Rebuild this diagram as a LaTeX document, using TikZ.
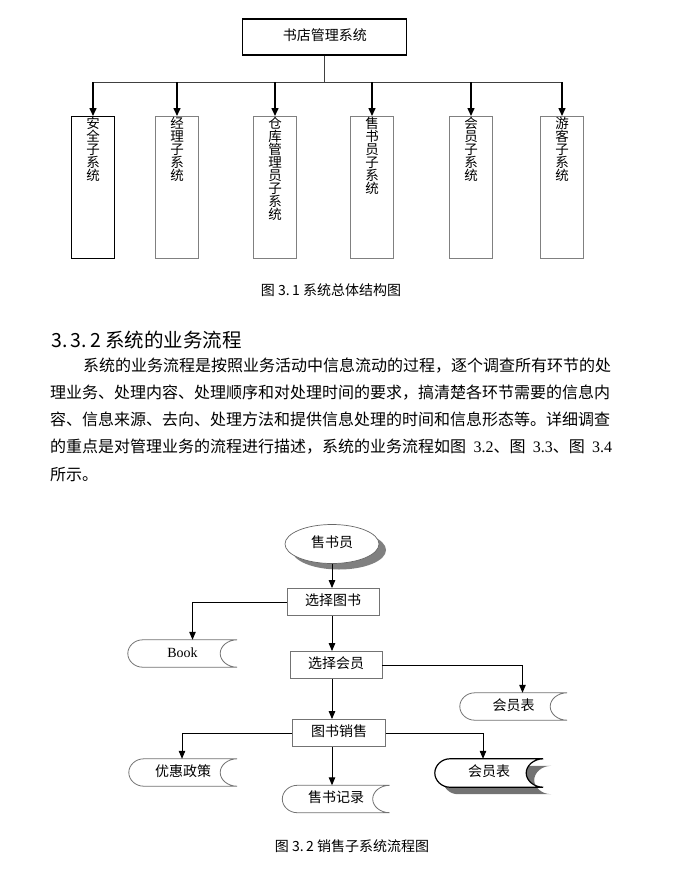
\documentclass[tikz,border=0pt]{standalone}
\usepackage{fontspec}
\setmainfont{Liberation Serif}
\newfontfamily\cjk{Noto Sans CJK SC}
\usetikzlibrary{arrows.meta,shapes.geometric,shadows}
\pgfdeclarelayer{back}
\pgfdeclarelayer{shade}
\pgfsetlayers{back,shade,main}

\tikzset{
  body/.style={anchor=base west, inner sep=0pt, font=\cjk\fontsize{16}{16}\selectfont},
  head/.style={anchor=base west, inner sep=0pt, font=\cjk\fontsize{19.5}{19.5}\selectfont},
  figcap/.style={anchor=base, inner sep=0pt, font=\cjk\fontsize{14}{14}\selectfont},
  topbox/.style={draw=black, line width=1.1pt, minimum width=164pt, minimum height=36pt,
    text height=0.8em, text depth=0.05em, font=\cjk\fontsize{14}{14}\selectfont},
  subbox/.style={minimum width=43pt, minimum height=142pt, anchor=north},
  subA/.style={draw=black, line width=1.3pt},
  subB/.style={draw=black!50, line width=0.8pt},
  vtext/.style={anchor=north, inner sep=0pt, align=center, font=\cjk\fontsize{13.5}{13}\selectfont},
  bus/.style={draw=black!75, line width=0.9pt},
  down/.style={draw=black, line width=1.5pt, -{Triangle[length=8pt,width=7pt]}},
  clerkshape/.style={ellipse, draw=black!60, line width=0.7pt, fill=white, inner sep=0pt,
    minimum width=94pt, minimum height=39pt, text height=0.8em, text depth=0.05em,
    font=\cjk\fontsize{14}{14}\selectfont,
    drop shadow={shadow xshift=7pt, shadow yshift=-6pt, fill=black!50, opacity=1}},
  procbox/.style={draw=black!55, line width=0.8pt, minimum width=92pt, minimum height=27pt,
    inner sep=0pt, text height=0.8em, text depth=0.05em, font=\cjk\fontsize{14}{14}\selectfont},
  store/.style={minimum height=27pt, inner sep=0pt, text height=0.8em, text depth=0.05em,
    font=\cjk\fontsize{14}{14}\selectfont},
  storeedge/.style={draw=black!55, line width=0.8pt},
  flow/.style={draw=black, line width=1pt, -{Triangle[length=8pt,width=6.5pt]}},
}

% outline of a data store drawn round a named node
\newcommand{\storeline}[2][]{%
  \draw[#1] (#2.north east) -- ([xshift=15pt]#2.north west)
    .. controls ([xshift=6.7pt]#2.north west) and ([yshift=7.4pt]#2.west) .. (#2.west)
    .. controls ([yshift=-7.4pt]#2.west) and ([xshift=6.7pt]#2.south west) .. ([xshift=15pt]#2.south west)
    -- (#2.south east)
    .. controls ([xshift=-9.4pt]#2.south east) and ([xshift=-17pt,yshift=-7.4pt]#2.east) .. ([xshift=-17pt]#2.east)
    .. controls ([xshift=-17pt,yshift=7.4pt]#2.east) and ([xshift=-9.4pt]#2.north east) .. cycle;}

\begin{document}
\begin{tikzpicture}[x=1pt,y=-1pt]
  \useasboundingbox (0,0) rectangle (681,873);
  \begin{pgfonlayer}{back}
    \fill[white] (0,0) rectangle (681,873);
  \end{pgfonlayer}

  % Structure chart
  \node[topbox] (sys) at (324.8,37) {书店管理系统};
  \coordinate (bus) at (324.8,82);
  \foreach \x/\k/\t [count=\i] in {93/subA/{安\\全\\子\\系\\统},
      177/subB/{经\\理\\子\\系\\统}, 275/subB/{仓\\库\\管\\理\\员\\子\\系\\统},
      372/subB/{售\\书\\员\\子\\系\\统}, 471/subB/{会\\员\\子\\系\\统},
      562/subB/{游\\客\\子\\系\\统}}{
    \node[subbox,\k] (sub\i) at (\x,116) {};
    \node[vtext] (name\i) at ([yshift=-1pt]sub\i.north) {\t};
  }
  \draw[bus] (sys.south) -- (bus);
  \draw[bus] (sub1.north |- bus) -- (sub6.north |- bus);
  \foreach \i in {1,...,6}
    \draw[down] (sub\i.north |- bus) -- (sub\i.north);

  \node[figcap] (cap1) at (331,295) {图 3.\,1 系统总体结构图};

  % Heading and paragraph
  \node[head] (head) at (51,347) {3.\,3.\,2 系统的业务流程};
  \node[body] (par1) at (83,371) {系统的业务流程是按照业务活动中信息流动的过程，逐个调查所有环节的处};
  \node[body] (par2) at (50,398.3) {理业务、处理内容、处理顺序和对处理时间的要求，搞清楚各环节需要的信息内};
  \node[body] (par3) at (50,425.6) {容、信息来源、去向、处理方法和提供信息处理的时间和信息形态等。详细调查};
  \node[body] (par4) at (50,452.9) {\makebox[562pt][s]{的重点是对管理业务的流程进行描述，系统的业务流程如图 {\rmfamily 3.2}、图 {\rmfamily 3.3}、图 {\rmfamily 3.4}}};
  \node[body] (par5) at (50,480.2) {所示。};

  % Sales flow chart
  \node[clerkshape] (clerk) at (332,544) {售书员};
  \node[procbox] (pick) at (333,602) {选择图书};
  \node[procbox] (member) at (336,665) {选择会员};
  \node[procbox, minimum width=93pt] (sale) at (339,733) {图书销售};

  \node[store, minimum width=109pt] (book) at (182.5,653.5) {\rmfamily Book};
  \node[store, minimum width=107pt] (mem1) at (513.5,706.5) {会员表};
  \node[store, minimum width=108pt] (policy) at (183,772.5) {优惠政策};
  \node[store, minimum width=108pt, minimum height=28pt] (mem2) at (489,773) {会员表};
  \node[store, minimum width=107pt] (record) at (336,799) {售书记录};

  \storeline[storeedge]{book}
  \storeline[storeedge]{mem1}
  \storeline[storeedge]{policy}
  \storeline[storeedge]{record}
  \begin{pgfonlayer}{shade}
    \storeline[fill=black!55, draw=none, transform canvas={shift={(8pt,-7pt)}}]{mem2}
    \storeline[fill=white, draw=none]{mem2}
  \end{pgfonlayer}
  \storeline[draw=black, line width=1.2pt]{mem2}

  % Connectors
  \draw[flow] (clerk.south) -- (clerk.south |- pick.north);
  \draw[flow] (pick.south -| clerk) -- (member.north -| clerk);
  \draw[flow] (member.south -| clerk) -- (sale.north -| clerk);
  \draw[flow] (sale.south -| clerk) -- (record.north -| clerk);
  \draw[flow] (pick.west) -| ([xshift=10pt]book.north);
  \draw[flow] (member.east) -| ([xshift=9pt]mem1.north);
  \draw[flow] (sale.west) -| ([xshift=-1pt]policy.north);
  \draw[flow] (sale.east) -| ([xshift=-6pt]mem2.north);

  \node[figcap] (cap2) at (352,851) {图 3.\,2 销售子系统流程图};

\end{tikzpicture}
\end{document}
